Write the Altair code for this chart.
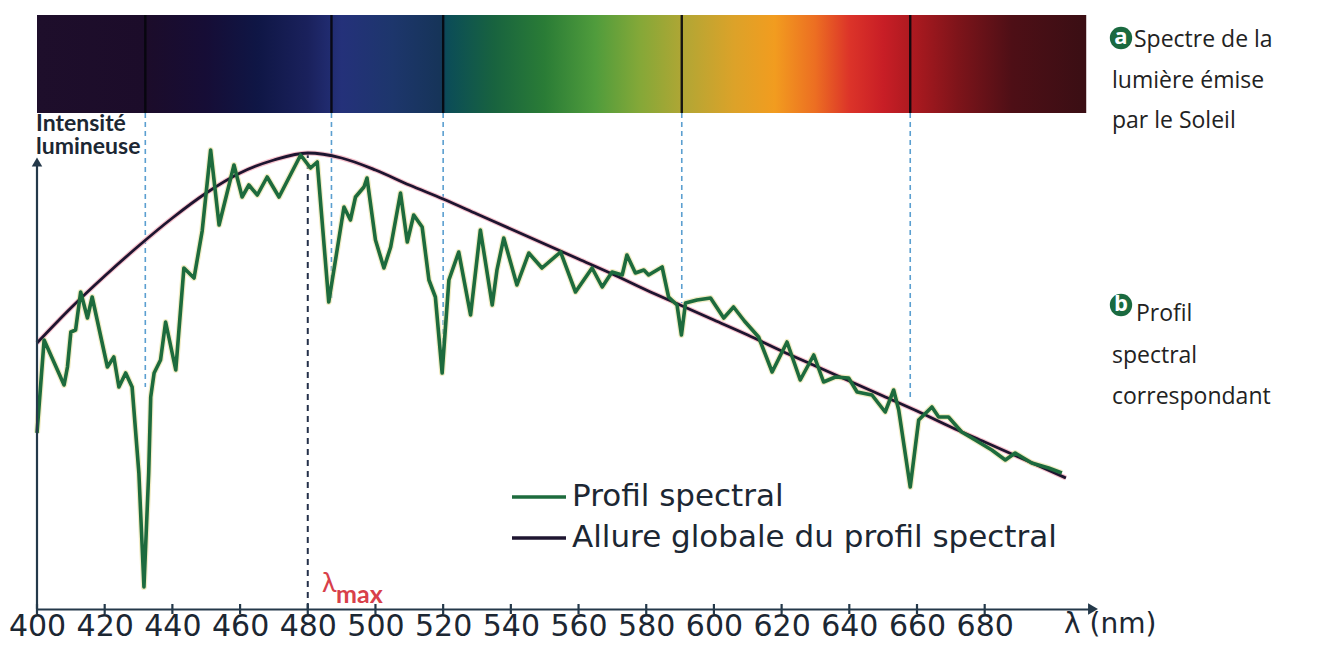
import altair as alt
import pandas as pd

# ---------------- data ----------------
# spectral profile (green), wavelength in nm, intensity in arbitrary units
WL_PROFILE = [400.0, 402.1, 408.0, 409.0, 410.0, 411.4, 412.9, 414.9, 416.3, 420.8, 422.7, 424.2,
              426.2, 428.1, 430.1, 431.6, 433.0, 433.6, 434.6, 436.5, 438.0, 441.0, 443.4, 446.4,
              448.8, 451.3, 453.8, 458.2, 460.6, 462.6, 465.1, 468.0, 471.5, 477.9, 480.8, 482.8,
              486.2, 490.7, 492.6, 494.1, 496.6, 497.5, 500.0, 502.5, 504.5, 507.4, 509.4, 511.3,
              513.8, 515.8, 517.7, 519.7, 521.7, 524.6, 528.1, 531.0, 534.5, 535.9, 537.9, 541.8,
              545.3, 549.2, 554.7, 559.1, 564.0, 567.0, 569.9, 572.9, 574.3, 576.8, 579.3, 580.7,
              584.7, 586.6, 589.1, 590.4, 591.6, 595.0, 599.0, 602.9, 605.8, 609.0, 613.2, 617.2,
              621.6, 625.5, 629.5, 632.4, 635.9, 639.8, 642.3, 646.7, 650.6, 653.1, 654.6, 658.0,
              660.5, 664.4, 666.4, 669.3, 673.2, 677.2, 682.1, 686.1, 689.0, 693.9, 698.9, 702.8]
I_PROFILE = [188, 281, 236, 254, 289, 291, 329, 303, 324, 254, 264, 234,
             248, 234, 148, 34, 148, 224, 248, 261, 299, 251, 353, 343,
             390, 471, 396, 456, 424, 436, 426, 444, 424, 466, 453, 459,
             319, 414, 401, 424, 434, 443, 381, 353, 374, 428, 379, 406,
             394, 341, 324, 248, 341, 369, 306, 391, 316, 351, 383, 336,
             368, 353, 369, 329, 353, 334, 349, 346, 366, 348, 351, 346,
             354, 324, 316, 286, 318, 321, 323, 303, 314, 300, 284, 249,
             279, 241, 266, 239, 244, 243, 229, 226, 209, 231, 211, 134,
             201, 214, 204, 204, 189, 181, 171, 161, 168, 158, 153, 148]

# overall shape of the spectral profile (envelope)
WL_ENVELOPE = [400, 410, 420, 430, 440, 450, 460, 470, 480, 490, 500, 510, 520, 530, 540,
               550, 560, 570, 580, 590, 600, 610, 620, 630, 640, 650, 660, 670, 680, 690, 700, 704]
I_ENVELOPE = [278, 313, 345, 375, 403, 428, 448, 461, 468, 463, 451, 436, 422, 407, 392,
              377, 362, 347, 331, 316, 301, 286, 270, 255, 240, 225, 210, 194, 179, 164, 149, 143]

# Fraunhofer absorption lines and where their dashed guides stop
FRAUNHOFER = [432, 487, 520, 590.5, 658]
GUIDE_END = [234, 319, 248, 318, 224]

LAMBDA_MAX = 480
PEAK = 468

TICKS = [400, 420, 440, 460, 480, 500, 520, 540, 560, 580, 600, 620, 640, 660, 680]

# colour spectrum of the Sun's light
SPECTRUM = [400, 710]
SPEC_WL = [400, 432, 450, 465, 480, 490, 505, 519, 521, 535, 550, 565, 578, 592, 606, 618,
           630, 640, 650, 660, 672, 688, 710]
SPEC_COLORS = ['#1e0e2b', '#1c0c2a', '#160d36', '#0f1645', '#1a215c', '#24317a', '#1d366c',
               '#163459', '#0b4c58', '#18633f', '#2a7c36', '#509c3c', '#84a838', '#b4a634',
               '#dca229', '#f29c1f', '#ec6e22', '#dc3429', '#c81e26', '#a8191f', '#7e141a',
               '#4e0f16', '#3a0e14']

LEGEND_LABELS = ['Profil spectral', 'Allure globale du profil spectral']

# ---------------- layout ----------------
X0, Y0 = 37, 15          # page position of the plot origin
AXIS_Y = 609             # page y of the x axis
W = 1056
H = AXIS_Y - Y0
BAR_H = 98
Y_MIN, Y_MAX = 12, 12 + H
BAR_BOTTOM_VAL = Y_MAX - BAR_H

xs = alt.Scale(domain=[400, 712], nice=False, zero=False)
ys = alt.Scale(domain=[Y_MIN, Y_MAX], nice=False, zero=False)

AXIS_COLOR = '#24394a'
TEXT_COLOR = '#1c2733'
GREEN = '#1d6b3d'
DARK = '#1e1530'
MAIN_FONT = 'DejaVu Sans'


def px(x):
    return alt.value(x - X0)


def py(y):
    return alt.value(y - Y0)


# spectrum bar
stops = [alt.GradientStop(offset=(w - SPECTRUM[0]) / (SPECTRUM[1] - SPECTRUM[0]), color=c)
         for w, c in zip(SPEC_WL, SPEC_COLORS)]
grad = alt.Gradient(gradient='linear', stops=stops, x1=0, x2=1, y1=0, y2=0)
bar_df = pd.DataFrame({'a': [SPECTRUM[0]], 'b': [SPECTRUM[1]],
                       'top': [Y_MAX], 'bottom': [BAR_BOTTOM_VAL]})
bar = alt.Chart(bar_df).mark_rect(fill=grad).encode(
    x=alt.X('a:Q', scale=xs, axis=alt.Axis(values=TICKS, format='d', labelFont=MAIN_FONT,
                                           labelFontSize=30, labelColor=TEXT_COLOR,
                                           domainColor=AXIS_COLOR, domainWidth=2.2,
                                           ticks=False, grid=False, title=None,
                                           labelPadding=2, labelFlush=False)),
    x2='b:Q',
    y=alt.Y('top:Q', scale=ys, axis=None),
    y2='bottom:Q')

fr_df = pd.DataFrame({'wl': FRAUNHOFER, 'end': GUIDE_END,
                      'top': [Y_MAX] * len(FRAUNHOFER),
                      'bottom': [BAR_BOTTOM_VAL] * len(FRAUNHOFER)})
fr_lines = alt.Chart(fr_df).mark_rule(color='#06060c', strokeWidth=2.4, opacity=0.9).encode(
    x='wl:Q', y='top:Q', y2='bottom:Q')
guides = alt.Chart(fr_df).mark_rule(color='#5b9fd0', strokeWidth=1.6, strokeDash=[5, 4]).encode(
    x='wl:Q', y='bottom:Q', y2='end:Q')

lmax_df = pd.DataFrame({'wl': [LAMBDA_MAX], 'top': [PEAK], 'bottom': [Y_MIN]})
lmax_line = alt.Chart(lmax_df).mark_rule(color='#24304a', strokeWidth=2, strokeDash=[6, 5]).encode(
    x='wl:Q', y='bottom:Q', y2='top:Q')

env_df = pd.DataFrame({'wl': WL_ENVELOPE, 'I': I_ENVELOPE})
env_halo = alt.Chart(env_df).mark_line(color='#f2a6b6', strokeWidth=5, opacity=0.7,
                                       interpolate='monotone').encode(x='wl:Q', y='I:Q')
env = alt.Chart(env_df).mark_line(color=DARK, strokeWidth=2.8,
                                  interpolate='monotone').encode(x='wl:Q', y='I:Q')

prof_df = pd.DataFrame({'wl': WL_PROFILE, 'I': I_PROFILE})
prof_halo = alt.Chart(prof_df).mark_line(color='#e6dc96', strokeWidth=6, opacity=0.55,
                                         strokeJoin='round').encode(x='wl:Q', y='I:Q')
prof = alt.Chart(prof_df).mark_line(color=GREEN, strokeWidth=3.6,
                                    strokeJoin='round').encode(x='wl:Q', y='I:Q')

# vertical axis with arrow
yaxis_df = pd.DataFrame({'wl': [400], 'a': [Y_MIN], 'b': [459]})
yaxis = alt.Chart(yaxis_df).mark_rule(color=AXIS_COLOR, strokeWidth=2.2).encode(
    x='wl:Q', y='a:Q', y2='b:Q')
yarrow = alt.Chart(yaxis_df).mark_point(shape='triangle-up', filled=True, size=110,
                                        color=AXIS_COLOR, opacity=1).encode(x='wl:Q', y='b:Q')
xarrow_df = pd.DataFrame({'wl': [712], 'I': [Y_MIN]})
xarrow = alt.Chart(xarrow_df).mark_point(shape='triangle-right', filled=True, size=130,
                                         color=AXIS_COLOR, opacity=1).encode(x='wl:Q', y='I:Q')

tick_df = pd.DataFrame({'wl': TICKS, 'a': [Y_MIN - 5] * len(TICKS), 'b': [Y_MIN + 5] * len(TICKS)})
ticks = alt.Chart(tick_df).mark_rule(color=AXIS_COLOR, strokeWidth=2.2).encode(
    x='wl:Q', y='a:Q', y2='b:Q')

one = pd.DataFrame({'k': [0]})


def text(s, x, y, size, color=TEXT_COLOR, font=MAIN_FONT, weight='normal', align='left',
         baseline='middle'):
    return alt.Chart(one).mark_text(text=s, font=font, fontSize=size, fontWeight=weight,
                                    color=color, align=align, baseline=baseline).encode(
        x=px(x), y=py(y))


NOTE_FONT = 'Open Sans'
NOTE_COLOR = '#222222'
texts = [
    text('Intensité', 36, 124, 23, font='Lato', weight='bold'),
    text('lumineuse', 36, 147, 23, font='Lato', weight='bold'),
    text('λ (nm)', 1064, AXIS_Y + 2, 28, baseline='top'),
    text('λ', 322, 592, 27, color='#d8404a', font='Lato', baseline='alphabetic'),
    text('max', 336, 603, 25, color='#d8404a', font='Lato', weight='bold', baseline='alphabetic'),
    text(LEGEND_LABELS[0], 572, 497, 31),
    text(LEGEND_LABELS[1], 572, 538, 31),
    text('Spectre de la', 1134, 40, 23, font=NOTE_FONT, color=NOTE_COLOR),
    text('lumière émise', 1112, 81, 23, font=NOTE_FONT, color=NOTE_COLOR),
    text('par le Soleil', 1112, 121, 23, font=NOTE_FONT, color=NOTE_COLOR),
    text('Profil', 1136, 314, 23, font=NOTE_FONT, color=NOTE_COLOR),
    text('spectral', 1112, 356, 23, font=NOTE_FONT, color=NOTE_COLOR),
    text('correspondant', 1112, 397, 23, font=NOTE_FONT, color=NOTE_COLOR),
]

# legend swatches
leg_green = alt.Chart(one).mark_rule(color=GREEN, strokeWidth=3.4).encode(
    x=px(512), x2=px(566), y=py(497))
leg_dark = alt.Chart(one).mark_rule(color=DARK, strokeWidth=3.4).encode(
    x=px(512), x2=px(566), y=py(538))

# badges
badge_a = alt.Chart(one).mark_circle(size=500, color='#1a6a40', opacity=1).encode(x=px(1121), y=py(38))
badge_b = alt.Chart(one).mark_circle(size=500, color='#1a6a40', opacity=1).encode(x=px(1121), y=py(305))
let_a = text('a', 1121, 37, 22, color='white', weight='bold', align='center', font='Open Sans')
let_b = text('b', 1121, 304, 22, color='white', weight='bold', align='center', font='Open Sans')

chart = alt.layer(
    bar, fr_lines, guides, lmax_line, env_halo, prof_halo, env, prof,
    yaxis, yarrow, xarrow, ticks, leg_green, leg_dark,
    badge_a, badge_b, let_a, let_b, *texts
).properties(
    width=W, height=H,
    padding={'left': X0 - 8, 'top': Y0 - 8, 'right': 210, 'bottom': 33},
    autosize=alt.AutoSizeParams(type='none'),
    background='white',
).configure_view(stroke=None)

chart.save('out.html', embed_options={'renderer': 'svg', 'actions': False})
